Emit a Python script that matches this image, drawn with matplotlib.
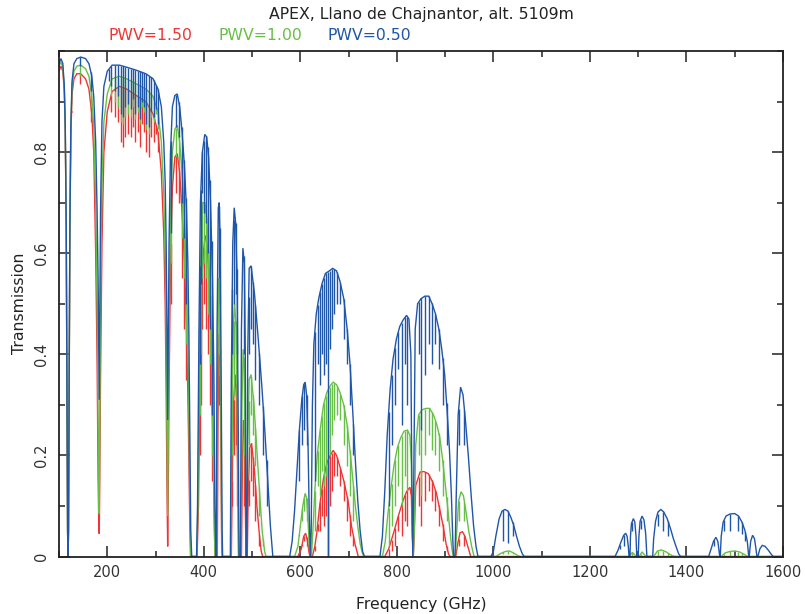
import numpy as np
import matplotlib
matplotlib.use("Agg")
import matplotlib.pyplot as plt
from matplotlib.ticker import MultipleLocator, FixedLocator, FixedFormatter

# ---------------- data ----------------
title = "APEX, Llano de Chajnantor, alt. 5109m"
pwv_labels = ["PWV=1.50", "PWV=1.00", "PWV=0.50"]

# PWV = 0.50 mm (blue) : envelope knots
freq_050 = [100, 104, 108, 111, 113, 115, 116.5, 117.8, 118.75, 119.7, 121, 122.5, 124.5, 127, 131, 137, 145, 155, 162,
            168, 172, 176, 179, 181, 182.5, 183.3, 184, 186, 189, 193, 200, 210, 225, 240, 260, 280, 295, 305, 312,
            317, 320, 322, 323.7, 325.15, 326.5, 328, 331, 335, 340, 345, 350, 355, 360, 364, 367, 369, 371, 373, 375,
            385, 387, 390, 393, 397, 402, 406, 410, 414, 418, 421, 423, 425, 426, 427.5, 430, 432, 434, 436, 438, 439,
            455, 457, 460, 463, 466, 469, 471, 473, 476, 478, 481, 484, 486, 487.5, 489.5, 491, 494, 498, 505, 512,
            520, 527, 533, 538, 543,
            578, 583, 588, 593, 598, 603, 607, 610, 613, 616, 618.5, 620.7, 622.5, 625, 628, 633, 638, 645, 652, 660,
            667, 675, 682, 690, 697, 703, 709, 714, 719, 724, 729, 733,
            765, 770, 775, 780, 786, 792, 799, 806, 813, 820, 825, 829, 831, 833, 835, 838, 843, 850, 858, 866, 873,
            880, 887, 893, 899, 904, 909, 913, 916, 917.5, 920.5, 923, 927, 932, 937, 942, 948, 954, 959, 964, 968,
            995, 1000, 1005, 1012, 1018, 1024, 1030, 1036, 1042, 1048, 1054, 1060, 1064,
            1252, 1258, 1264, 1270, 1274, 1277, 1279.5, 1281, 1283, 1284, 1286, 1290, 1293, 1295.5, 1297,
            1300, 1301.5, 1304, 1308, 1312, 1315.5, 1318, 1330, 1332, 1336, 1341, 1347, 1353, 1360, 1367, 1373,
            1379, 1384, 1388,
            1446, 1451, 1456, 1461, 1465, 1467.5, 1469, 1470, 1472, 1476, 1482, 1490, 1500, 1508, 1515, 1521, 1526,
            1529, 1530, 1533, 1537, 1541, 1544, 1546, 1548, 1552, 1557, 1563, 1570, 1576, 1580, 1600]
trans_050 = [0.975, 0.985, 0.975, 0.93, 0.85, 0.65, 0.35, 0.05, 0.0, 0.05, 0.35, 0.65, 0.85, 0.94, 0.975, 0.985, 0.988,
             0.985, 0.975, 0.95, 0.91, 0.82, 0.68, 0.55, 0.38, 0.31, 0.4, 0.68, 0.86, 0.93, 0.96, 0.972, 0.972, 0.968,
             0.962, 0.955, 0.945, 0.925, 0.89, 0.82, 0.74, 0.62, 0.45, 0.27, 0.45, 0.62, 0.80, 0.89, 0.912, 0.915,
             0.89, 0.84, 0.77, 0.69, 0.58, 0.45, 0.25, 0.05, 0.0,
             0.0, 0.1, 0.45, 0.7, 0.8, 0.835, 0.83, 0.79, 0.7, 0.55, 0.35, 0.1, 0.0, 0.0, 0.45, 0.69, 0.7, 0.6, 0.35,
             0.05, 0.0,
             0.0, 0.35, 0.62, 0.69, 0.66, 0.55, 0.3, 0.0, 0.0, 0.45, 0.61, 0.58, 0.4, 0.0, 0.0, 0.4, 0.57, 0.575,
             0.52, 0.44, 0.34, 0.24, 0.14, 0.06, 0.0,
             0.0, 0.03, 0.09, 0.17, 0.25, 0.31, 0.34, 0.345, 0.32, 0.22, 0.08, 0.0, 0.05, 0.3, 0.42, 0.48, 0.51,
             0.54, 0.56, 0.565, 0.57, 0.565, 0.545, 0.51, 0.45, 0.38, 0.28, 0.19, 0.11, 0.05, 0.01, 0.0,
             0.0, 0.04, 0.13, 0.24, 0.33, 0.39, 0.43, 0.455, 0.468, 0.477, 0.47, 0.4, 0.15, 0.0, 0.15, 0.45, 0.5,
             0.51, 0.515, 0.515, 0.5, 0.48, 0.45, 0.41, 0.36, 0.29, 0.21, 0.12, 0.03, 0.0, 0.0, 0.12, 0.28, 0.335,
             0.32, 0.27, 0.2, 0.12, 0.06, 0.02, 0.0,
             0.0, 0.01, 0.04, 0.075, 0.09, 0.093, 0.09, 0.078, 0.062, 0.04, 0.02, 0.005, 0.0,
             0.0, 0.012, 0.028, 0.042, 0.046, 0.04, 0.02, 0.0, 0.0, 0.04, 0.065, 0.075, 0.068, 0.04, 0.0,
             0.0, 0.04, 0.07, 0.08, 0.072, 0.045, 0.0, 0.0, 0.035, 0.07, 0.088, 0.093, 0.088, 0.075, 0.055, 0.035,
             0.018, 0.005, 0.0,
             0.0, 0.015, 0.03, 0.038, 0.03, 0.012, 0.0, 0.0, 0.04, 0.068, 0.08, 0.084, 0.085, 0.08, 0.068, 0.052,
             0.03, 0.0, 0.0, 0.03, 0.042, 0.035, 0.015, 0.0, 0.0, 0.015, 0.022, 0.02, 0.012, 0.004, 0.0, 0.0]

# PWV = 1.00 mm (green)
freq_100 = [100, 104, 108, 111, 113, 115, 116.5, 117.8, 118.75, 119.7, 121, 122.5, 124.5, 127, 131, 137, 145, 155, 162,
            168, 172, 176, 179, 181, 182.5, 183.3, 184, 186, 189, 193, 200, 210, 225, 240, 260, 280, 295, 305, 312,
            317, 320, 322, 323.7, 325.15, 326.5, 328, 331, 335, 340, 345, 350, 355, 360, 364, 367, 369, 371, 373,
            385, 388, 391, 394, 398, 402, 406, 410, 414, 418, 421, 423, 427, 428.5, 431, 433, 435, 437, 438,
            456, 458, 461, 464, 467, 470, 472, 477, 479, 481.5, 484, 486, 487.5, 489.5, 491, 494, 498, 504, 510,
            516, 521, 526, 529,
            588, 595, 600, 605, 610, 613, 616, 618.5, 620.7, 623, 626, 630, 635, 641, 648, 655, 662, 668, 675, 682,
            690, 697, 703, 709, 714, 719, 724, 729, 732,
            770, 776, 781, 787, 794, 801, 808, 815, 822, 827, 830, 832, 834, 836, 839, 845, 852, 860, 868, 876, 883,
            889, 895, 900, 905, 910, 914, 917, 921, 924, 928, 933, 938, 943, 949, 955, 960,
            1005, 1015, 1025, 1033, 1042, 1050, 1055,
            1280, 1288, 1296, 1302, 1308, 1316, 1332, 1340, 1348, 1358, 1368, 1375,
            1472, 1480, 1490, 1500, 1510, 1520, 1527, 1600]
trans_100 = [0.97, 0.978, 0.968, 0.925, 0.845, 0.645, 0.345, 0.05, 0.0, 0.05, 0.345, 0.645, 0.84, 0.93, 0.96, 0.97,
             0.972, 0.965, 0.95, 0.91, 0.85, 0.7, 0.5, 0.28, 0.12, 0.085, 0.2, 0.5, 0.74, 0.86, 0.915, 0.945, 0.95,
             0.945, 0.935, 0.925, 0.91, 0.88, 0.82, 0.72, 0.6, 0.45, 0.25, 0.08, 0.25, 0.45, 0.68, 0.80, 0.845,
             0.853, 0.82, 0.76, 0.67, 0.55, 0.42, 0.3, 0.12, 0.0,
             0.0, 0.1, 0.42, 0.6, 0.7, 0.7, 0.67, 0.6, 0.48, 0.3, 0.12, 0.0, 0.0, 0.35, 0.55, 0.5, 0.3, 0.05, 0.0,
             0.0, 0.25, 0.45, 0.5, 0.45, 0.25, 0.0, 0.0, 0.3, 0.41, 0.37, 0.2, 0.0, 0.0, 0.22, 0.35, 0.36, 0.3,
             0.21, 0.12, 0.05, 0.01, 0.0,
             0.0, 0.02, 0.06, 0.1, 0.125, 0.115, 0.07, 0.02, 0.0, 0.0, 0.05, 0.13, 0.2, 0.25, 0.3, 0.325, 0.338,
             0.345, 0.34, 0.325, 0.3, 0.26, 0.21, 0.15, 0.10, 0.06, 0.025, 0.005, 0.0,
             0.0, 0.03, 0.08, 0.13, 0.18, 0.215, 0.235, 0.248, 0.25, 0.24, 0.18, 0.05, 0.0, 0.05, 0.22, 0.28, 0.29,
             0.293, 0.293, 0.28, 0.26, 0.235, 0.19, 0.145, 0.1, 0.05, 0.015, 0.0, 0.0, 0.05, 0.11, 0.128, 0.12,
             0.09, 0.05, 0.02, 0.0,
             0.0, 0.006, 0.01, 0.011, 0.007, 0.002, 0.0,
             0.0, 0.008, 0.0, 0.0, 0.009, 0.0, 0.0, 0.011, 0.013, 0.009, 0.003, 0.0,
             0.0, 0.007, 0.01, 0.011, 0.009, 0.004, 0.0, 0.0]

# PWV = 1.50 mm (red)
freq_150 = [100, 104, 108, 111, 113, 115, 116.5, 117.8, 118.75, 119.7, 121, 122.5, 124.5, 127, 131, 137, 145, 155, 162,
            168, 172, 176, 179, 181, 182.5, 183.3, 184, 186, 189, 193, 200, 210, 225, 240, 260, 280, 295, 305, 312,
            317, 320, 322, 323.7, 325.15, 326.5, 328, 331, 335, 340, 345, 350, 355, 360, 364, 367, 369, 371, 372.5,
            386, 389, 392, 395, 399, 403, 407, 411, 415, 419, 422, 423.5, 428, 429.5, 431.5, 433.5, 435.5, 437, 438,
            457, 459, 462, 465, 468, 470.5, 472, 478, 480, 482, 484.5, 486, 487.5, 490, 492, 495, 499, 505, 510,
            515, 519, 522,
            595, 602, 607, 611, 615, 618, 620, 625, 630, 634, 640, 648, 655, 662, 668, 675, 682, 690, 699, 706, 713,
            720,
            775, 783, 793, 803, 813, 820, 827, 830, 832, 834, 836, 839, 848, 856, 865, 874, 882, 889, 896, 902, 907,
            910, 922, 926, 931, 936, 941, 947, 953, 1600]
trans_150 = [0.96, 0.97, 0.96, 0.92, 0.84, 0.64, 0.34, 0.05, 0.0, 0.05, 0.34, 0.64, 0.83, 0.915, 0.945, 0.955, 0.955,
             0.945, 0.925, 0.875, 0.8, 0.6, 0.38, 0.16, 0.06, 0.045, 0.1, 0.35, 0.62, 0.8, 0.88, 0.92, 0.93, 0.925,
             0.912, 0.9, 0.875, 0.84, 0.76, 0.64, 0.5, 0.33, 0.14, 0.02, 0.14, 0.33, 0.58, 0.73, 0.79, 0.797, 0.76,
             0.68, 0.58, 0.46, 0.32, 0.2, 0.06, 0.0,
             0.0, 0.1, 0.36, 0.52, 0.6, 0.635, 0.62, 0.55, 0.42, 0.22, 0.05, 0.0, 0.0, 0.28, 0.44, 0.4, 0.2, 0.02, 0.0,
             0.0, 0.15, 0.31, 0.36, 0.31, 0.15, 0.0, 0.0, 0.18, 0.27, 0.24, 0.1, 0.0, 0.0, 0.12, 0.215, 0.224, 0.17,
             0.1, 0.045, 0.01, 0.0,
             0.0, 0.015, 0.04, 0.046, 0.03, 0.008, 0.0, 0.0, 0.02, 0.046, 0.1, 0.155, 0.185, 0.2, 0.21, 0.2, 0.178,
             0.15, 0.11, 0.06, 0.026, 0.0,
             0.0, 0.015, 0.046, 0.08, 0.111, 0.128, 0.137, 0.12, 0.04, 0.0, 0.04, 0.14, 0.167, 0.168, 0.164, 0.148,
             0.125, 0.092, 0.06, 0.025, 0.005, 0.0, 0.0, 0.025, 0.047, 0.049, 0.04, 0.02, 0.0, 0.0]

# narrow absorption lines: frequency and bottom value for each PWV
line_freq = [126, 143, 166,
             203, 208, 215, 222, 229, 233, 237, 243, 249, 254, 258, 263, 267, 271, 276, 281, 286, 291, 296, 301, 305,
             332, 342, 348, 354, 359, 363,
             391.5, 394, 397, 400, 404, 408, 412, 416,
             430.5, 433, 459, 462, 466, 468.5, 482.5,
             493, 497, 502, 507, 515, 523, 530,
             598, 604, 608, 613,
             630, 636, 641, 645, 649, 653, 657, 661, 665, 670, 676, 683, 690, 697, 703, 710,
             783, 789, 796, 803, 810, 817, 822, 845, 851, 858, 866, 872, 880, 887, 895, 903,
             928, 940, 1020, 1030, 1040,
             1262, 1270, 1287, 1305, 1340, 1352, 1362,
             1458, 1478, 1490, 1507, 1515, 1522]
line_150 = [0.88, 0.935, 0.86,
            0.9, 0.88, 0.87, 0.86, 0.82, 0.81, 0.83, 0.835, 0.83, 0.85, 0.82, 0.84, 0.81, 0.855, 0.84, 0.80, 0.79, 0.83,
            0.82, 0.835, 0.80,
            0.5, 0.72, 0.7, 0.55, 0.45, 0.35,
            0.2, 0.3, 0.45, 0.5, 0.45, 0.4, 0.3, 0.15,
            0.3, 0.3, 0.1, 0.2, 0.22, 0.1, 0.1,
            0.1, 0.15, 0.12, 0.07, 0.02, 0.0, 0.0,
            0.005, 0.02, 0.03, 0.02,
            0.01, 0.05, 0.05, 0.08, 0.06, 0.08, 0.0, 0.1, 0.13, 0.16, 0.16, 0.14, 0.11, 0.07, 0.04, 0.02,
            0.0, 0.01, 0.02, 0.05, 0.04, 0.07, 0.06, 0.1, 0.06, 0.11, 0.13, 0.11, 0.09, 0.06, 0.03, 0.01,
            0.02, 0.02, 0.0, 0.0, 0.0,
            0.0, 0.0, 0.0, 0.0, 0.0, 0.0, 0.0,
            0.0, 0.0, 0.0, 0.0, 0.0, 0.0]
line_100 = [0.9, 0.95, 0.89,
            0.925, 0.91, 0.9, 0.89, 0.86, 0.855, 0.87, 0.875, 0.87, 0.89, 0.865, 0.88, 0.855, 0.89, 0.88, 0.845, 0.835,
            0.87, 0.86, 0.875, 0.845,
            0.58, 0.79, 0.77, 0.63, 0.55, 0.42,
            0.28, 0.4, 0.55, 0.58, 0.55, 0.48, 0.38, 0.2,
            0.4, 0.4, 0.2, 0.32, 0.35, 0.2, 0.2,
            0.22, 0.28, 0.24, 0.18, 0.08, 0.02, 0.0,
            0.04, 0.07, 0.09, 0.07,
            0.05, 0.14, 0.12, 0.17, 0.14, 0.16, 0.0, 0.2, 0.24, 0.27, 0.28, 0.27, 0.22, 0.18, 0.12, 0.07,
            0.02, 0.06, 0.1, 0.14, 0.1, 0.16, 0.13, 0.2, 0.12, 0.2, 0.24, 0.21, 0.2, 0.17, 0.12, 0.07,
            0.07, 0.07, 0.005, 0.005, 0.005,
            0.0, 0.0, 0.0, 0.0, 0.0, 0.0, 0.0,
            0.0, 0.0, 0.0, 0.0, 0.0, 0.0]
line_050 = [0.93, 0.97, 0.92,
            0.94, 0.93, 0.92, 0.91, 0.875, 0.87, 0.89, 0.895, 0.885, 0.905, 0.875, 0.89, 0.865, 0.9, 0.89, 0.855, 0.85,
            0.88, 0.87, 0.885, 0.855,
            0.64, 0.85, 0.83, 0.7, 0.63, 0.5,
            0.38, 0.54, 0.72, 0.68, 0.66, 0.6, 0.45, 0.28,
            0.55, 0.5, 0.4, 0.5, 0.52, 0.4, 0.4,
            0.4, 0.45, 0.42, 0.35, 0.3, 0.2, 0.1,
            0.15, 0.22, 0.25, 0.22,
            0.15, 0.38, 0.34, 0.4, 0.36, 0.38, 0.0, 0.41, 0.45, 0.48, 0.5, 0.5, 0.43, 0.38, 0.3, 0.2,
            0.1, 0.22, 0.3, 0.37, 0.26, 0.38, 0.3, 0.4, 0.25, 0.36, 0.42, 0.38, 0.42, 0.37, 0.3, 0.22,
            0.22, 0.22, 0.03, 0.026, 0.04,
            0.015, 0.02, 0.05, 0.055, 0.06, 0.05, 0.04,
            0.02, 0.05, 0.05, 0.05, 0.045, 0.03]

x_ticks = [200, 400, 600, 800, 1000, 1200, 1400, 1600]
y_ticks = [0, 0.2, 0.4, 0.6, 0.8]
y_tick_labels = ["0", "0.2", "0.4", "0.6", "0.8"]

colors = ["#ee3535", "#68bf48", "#1f56a8"]

# ---------------- figure ----------------
W, H = 805, 614
fig = plt.figure(figsize=(W / 100, H / 100), dpi=100)
ax = fig.add_axes([59 / W, 1 - 556.5 / H, 724 / W, 505.5 / H])

series = [(freq_150, trans_150, line_150),
          (freq_100, trans_100, line_100),
          (freq_050, trans_050, line_050)]
for (f, t, lb), c in zip(series, colors):
    f = np.asarray(f, float)
    t = np.asarray(t, float)
    ax.plot(f, t, color=c, lw=1.0, solid_joinstyle="miter", zorder=2)
    lf = np.asarray(line_freq, float)
    top = np.interp(lf, f, t)
    bot = np.minimum(np.asarray(lb, float), top)
    ax.vlines(lf, bot, top, color=c, lw=1.0, zorder=2)

ax.set_xlim(100, 1600)
ax.set_ylim(0, 1.0)
ax.xaxis.set_major_locator(FixedLocator(x_ticks))
ax.xaxis.set_minor_locator(MultipleLocator(100))
ax.yaxis.set_major_locator(FixedLocator(y_ticks))
ax.yaxis.set_major_formatter(FixedFormatter(y_tick_labels))
ax.yaxis.set_minor_locator(MultipleLocator(0.1))
ax.tick_params(which="both", direction="in", top=True, right=True, width=1.1, color="#222222")
ax.tick_params(which="major", length=8)
ax.tick_params(which="minor", length=4.5)
ax.tick_params(axis="x", labelsize=10.5, pad=6, labelcolor="#333333")
ax.tick_params(axis="y", labelsize=10.5, pad=7, labelcolor="#333333")
for lab in ax.get_yticklabels():
    lab.set_rotation(90)
    lab.set_va("center")
for s in ax.spines.values():
    s.set_linewidth(1.3)
    s.set_color("#222222")

ax.set_xlabel("Frequency (GHz)", fontsize=11.3, labelpad=12, color="#222222")
ax.set_ylabel("Transmission", fontsize=11.3, labelpad=5, color="#222222")

fig.text(421 / W, 1 - 14 / H, title, ha="center", va="center", fontsize=11.3, color="#222222")
for lab, c, x0 in zip(pwv_labels, colors, [108, 218, 327]):
    fig.text(x0 / W, 1 - 36 / H, lab, ha="left", va="center", fontsize=11.3, color=c)

fig.savefig("out.png", dpi=100)
